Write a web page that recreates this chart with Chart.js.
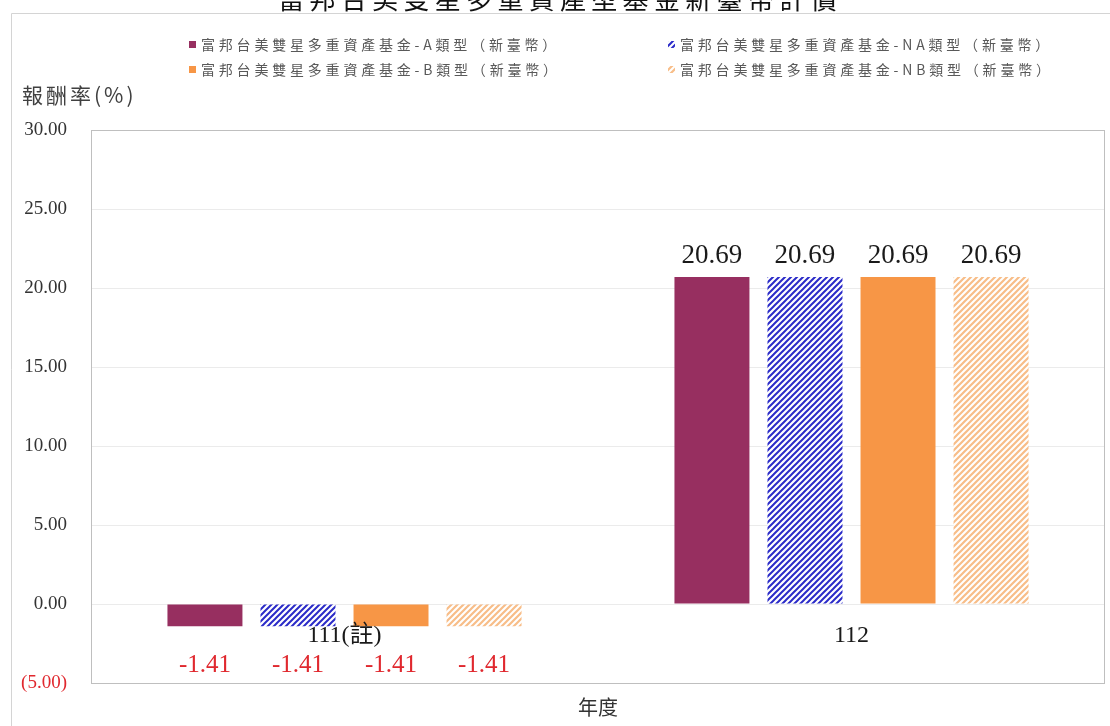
<!DOCTYPE html>
<html>
<head>
<meta charset="utf-8">
<script src="https://cdn.jsdelivr.net/npm/chart.js@4.4.1/dist/chart.umd.min.js"></script>
<style>
  html, body { margin: 0; background: #fff; }
  #wrap { width: 1110px; height: 726px; position: relative; }
</style>
</head>
<body>
<div id="wrap"><canvas id="myChart"></canvas></div>
<script>
const chartTitle = "富邦台美雙星多重資產型基金新臺幣計價"
const years = ["111(註)", "112"]
const seriesNames = [
  "富邦台美雙星多重資產基金-A類型（新臺幣）",
  "富邦台美雙星多重資產基金-NA類型（新臺幣）",
  "富邦台美雙星多重資產基金-B類型（新臺幣）",
  "富邦台美雙星多重資產基金-NB類型（新臺幣）",
]
const returnsA = [-1.41, 20.69]
const returnsNA = [-1.41, 20.69]
const returnsB = [-1.41, 20.69]
const returnsNB = [-1.41, 20.69]
const yTicks = [-5, 0, 5, 10, 15, 20, 25, 30]

const SERIF = '"Liberation Serif", "Times New Roman", "Noto Sans CJK TC", serif'
const CJK = '"Noto Sans CJK TC", sans-serif'

function hatch(line, bg, width) {
  const s = 6
  const c = document.createElement("canvas")
  c.width = s
  c.height = s
  const g = c.getContext("2d")
  g.fillStyle = bg
  g.fillRect(0, 0, s, s)
  g.strokeStyle = line
  g.lineWidth = width
  g.beginPath()
  g.moveTo(-1, s + 1); g.lineTo(s + 1, -1)
  g.moveTo(-1, 1); g.lineTo(1, -1)
  g.moveTo(s - 1, s + 1); g.lineTo(s + 1, s - 1)
  g.stroke()
  return g.createPattern(c, "repeat")
}

const fills = [
  "#972F60",
  hatch("#2B2BC8", "#ffffff", 2),
  "#F79646",
  hatch("#F8BD88", "#ffffff", 2.2),
]

// frame, titles, legend, category labels and value labels
const decor = {
  id: "decor",
  beforeDraw(chart) {
    const ctx = chart.ctx
    ctx.save()
    ctx.fillStyle = "#fff"
    ctx.fillRect(0, 0, chart.width, chart.height)
    ctx.strokeStyle = "#d4d4d4"
    ctx.lineWidth = 1
    ctx.beginPath()
    ctx.moveTo(11.5, chart.height)
    ctx.lineTo(11.5, 13.5)
    ctx.lineTo(chart.width, 13.5)
    ctx.stroke()
    ctx.restore()
  },
  afterDatasetsDraw(chart) {
    const ctx = chart.ctx
    const { left, top, right, bottom } = chart.chartArea
    const x = chart.scales.x
    const y = chart.scales.y
    ctx.save()
    ctx.strokeStyle = "#bfbfbf"
    ctx.lineWidth = 1
    ctx.strokeRect(Math.round(left) + 0.5, Math.round(top) + 0.5,
      Math.round(right - left) - 1, Math.round(bottom - top))

    // chart title (cut by the top of the picture)
    ctx.fillStyle = "#111"
    ctx.font = "26px " + CJK
    ctx.letterSpacing = "5.3px"
    ctx.textAlign = "center"
    ctx.textBaseline = "alphabetic"
    ctx.fillText(chartTitle, 560, 9)

    // legend
    ctx.font = "14px " + CJK
    ctx.letterSpacing = "3.8px"
    ctx.textAlign = "left"
    ctx.textBaseline = "middle"
    const colX = [189, 668]
    const rowY = [45, 70]
    seriesNames.forEach((name, i) => {
      const lx = colX[i % 2]
      const ly = rowY[Math.floor(i / 2)]
      ctx.fillStyle = fills[i]
      ctx.fillRect(lx, ly - 4, 7, 7)
      ctx.fillStyle = "#595959"
      ctx.fillText(name, lx + 12, ly)
    })

    // y axis title
    ctx.font = "21px " + CJK
    ctx.letterSpacing = "3px"
    ctx.fillStyle = "#404040"
    ctx.fillText("報酬率(%)", 22, 95)
    ctx.letterSpacing = "0px"

    // category labels next to the zero line
    ctx.font = "24px " + SERIF
    ctx.fillStyle = "#1a1a1a"
    ctx.textAlign = "center"
    const zeroY = y.getPixelForValue(0)
    years.forEach((label, i) => {
      ctx.fillText(label, x.getPixelForValue(i), zeroY + 32)
    })

    // value labels
    chart.data.datasets.forEach((ds, di) => {
      chart.getDatasetMeta(di).data.forEach((bar, i) => {
        const v = ds.data[i]
        if (v >= 0) {
          ctx.font = "27px " + SERIF
          ctx.fillStyle = "#1a1a1a"
          ctx.fillText(v.toFixed(2), bar.x, bar.y - 21)
        } else {
          ctx.font = "25px " + SERIF
          ctx.fillStyle = "#E0282E"
          ctx.fillText(v.toFixed(2), bar.x, bar.y + 39)
        }
      })
    })
    ctx.restore()
  },
}

new Chart(document.getElementById("myChart"), {
  type: "bar",
  data: {
    labels: years,
    datasets: [returnsA, returnsNA, returnsB, returnsNB].map((d, i) => ({
      label: seriesNames[i],
      data: d,
      backgroundColor: fills[i],
      borderWidth: 0,
      categoryPercentage: 0.734,
      barPercentage: 0.806,
    })),
  },
  options: {
    responsive: true,
    maintainAspectRatio: false,
    animation: false,
    layout: { padding: { top: 130, right: 5, bottom: 0, left: 0 } },
    plugins: {
      legend: { display: false },
      tooltip: { enabled: false },
    },
    scales: {
      x: {
        grid: { display: false },
        border: { display: false },
        ticks: { display: false },
        afterFit(scale) { scale.height = 43 },
        title: {
          display: true,
          text: "年度",
          color: "#333",
          font: { family: CJK, size: 20 },
          padding: { top: 0, bottom: 7 },
        },
      },
      y: {
        min: yTicks[0],
        max: yTicks[yTicks.length - 1],
        afterBuildTicks(scale) {
          scale.ticks = yTicks.map(v => ({ value: v }))
        },
        afterFit(scale) { scale.width = 91 },
        grid: { color: "#ebebeb", drawTicks: false },
        border: { display: false },
        ticks: {
          padding: 24,
          font: { family: SERIF, size: 19 },
          color: ctx => (ctx.tick && ctx.tick.value < 0 ? "#E0282E" : "#333"),
          callback: v => (v < 0 ? "(" + Math.abs(v).toFixed(2) + ")" : v.toFixed(2)),
        },
      },
    },
  },
  plugins: [decor],
})
</script>
</body>
</html>
